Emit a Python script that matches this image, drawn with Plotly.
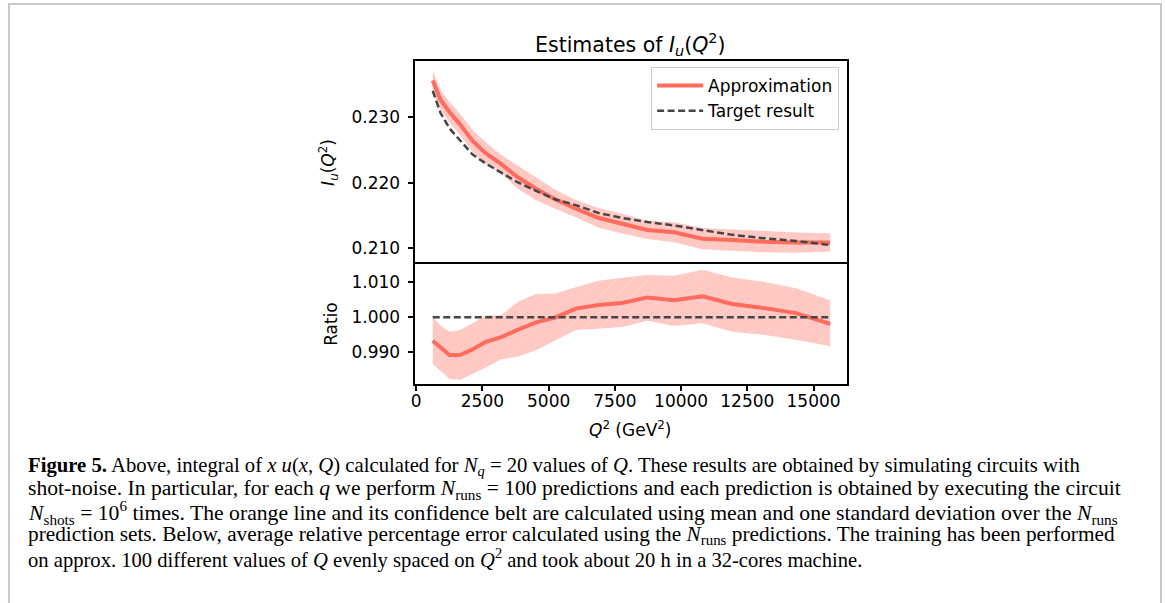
import plotly.graph_objects as go

# ---- data ----
q2 = [625, 916, 1262, 1664, 2121, 2634, 3201, 3824, 4503, 5237,
      6026, 6871, 7772, 8727, 9738, 10805, 11927, 13104, 14337, 15625]
approx = [0.23558, 0.23265, 0.23074, 0.22884, 0.22640, 0.22446, 0.22285, 0.22085, 0.21911, 0.21748,
          0.21603, 0.21463, 0.21373, 0.21278, 0.21242, 0.21145, 0.21123, 0.21096, 0.21085, 0.21087]
approx_lo = [0.23397, 0.23115, 0.22917, 0.22720, 0.22475, 0.22279, 0.22145, 0.21912, 0.21735, 0.21601,
             0.21471, 0.21315, 0.21222, 0.21139, 0.21089, 0.20983, 0.20959, 0.20936, 0.20930, 0.20948]
approx_hi = [0.23719, 0.23415, 0.23231, 0.23048, 0.22805, 0.22613, 0.22425, 0.22258, 0.22087, 0.21895,
             0.21735, 0.21611, 0.21524, 0.21417, 0.21395, 0.21307, 0.21287, 0.21256, 0.21240, 0.21226]
target = [0.23400, 0.23065, 0.22825, 0.22637, 0.22432, 0.22289, 0.22158, 0.22006, 0.21878, 0.21746,
          0.21657, 0.21538, 0.21461, 0.21399, 0.21346, 0.21272, 0.21203, 0.21153, 0.21110, 0.21047]
ratio = [0.9933, 0.9914, 0.9892, 0.9892, 0.9908, 0.9930, 0.9943, 0.9964, 0.9985, 0.9999,
         1.0025, 1.0035, 1.0041, 1.0057, 1.0049, 1.0060, 1.0038, 1.0027, 1.0012, 0.9981]
ratio_lo = [0.9866, 0.9847, 0.9823, 0.9821, 0.9837, 0.9856, 0.9880, 0.9887, 0.9905, 0.9933,
            0.9964, 0.9967, 0.9972, 0.9990, 0.9975, 0.9983, 0.9959, 0.9950, 0.9936, 0.9917]
ratio_hi = [1.0003, 0.9976, 0.9959, 0.9964, 0.9983, 1.0005, 1.0006, 1.0044, 1.0066, 1.0068,
            1.0086, 1.0105, 1.0113, 1.0121, 1.0119, 1.0136, 1.0114, 1.0102, 1.0083, 1.0049]
ones = [1.0] * len(q2)

x_ticks = [0, 2500, 5000, 7500, 10000, 12500, 15000]
top_ticks = [0.210, 0.220, 0.230]
bot_ticks = [0.990, 1.000, 1.010]

W, H = 1165, 603
def px(x):
    return x / W
def py(y):
    return 1 - y / H

LINE_C = "#ff6b5c"
BAND_C = "#ffc8c3"
DASH_C = "#454545"
FONT = "DejaVu Sans"

pattern = dict(shape="/", bgcolor=BAND_C, fgcolor="white", fgopacity=0.45, size=11, solidity=0.06)

fig = go.Figure()
# top panel
fig.add_trace(go.Scatter(x=q2, y=approx_hi, xaxis="x2", yaxis="y2", mode="lines",
                         line=dict(width=0, color=BAND_C), showlegend=False, hoverinfo="skip"))
fig.add_trace(go.Scatter(x=q2, y=approx_lo, xaxis="x2", yaxis="y2", mode="lines", fill="tonexty",
                         fillcolor=BAND_C, fillpattern=pattern,
                         line=dict(width=0, color=BAND_C), showlegend=False, hoverinfo="skip"))
fig.add_trace(go.Scatter(x=q2, y=approx, xaxis="x2", yaxis="y2", mode="lines", name="Approximation",
                         line=dict(width=4, color=LINE_C)))
fig.add_trace(go.Scatter(x=q2, y=target, xaxis="x2", yaxis="y2", mode="lines", name="Target result",
                         line=dict(width=2.5, color=DASH_C, dash="7px,3.5px")))
# bottom panel
fig.add_trace(go.Scatter(x=q2, y=ratio_hi, xaxis="x", yaxis="y", mode="lines",
                         line=dict(width=0, color=BAND_C), showlegend=False, hoverinfo="skip"))
fig.add_trace(go.Scatter(x=q2, y=ratio_lo, xaxis="x", yaxis="y", mode="lines", fill="tonexty",
                         fillcolor=BAND_C, fillpattern=pattern,
                         line=dict(width=0, color=BAND_C), showlegend=False, hoverinfo="skip"))
fig.add_trace(go.Scatter(x=q2, y=ratio, xaxis="x", yaxis="y", mode="lines",
                         line=dict(width=4, color=LINE_C), showlegend=False))
fig.add_trace(go.Scatter(x=q2, y=ones, xaxis="x", yaxis="y", mode="lines",
                         line=dict(width=2.5, color=DASH_C, dash="7px,3.5px"), showlegend=False))

xdom = [px(412), px(846)]
axcommon = dict(showline=True, linecolor="black", linewidth=2, mirror=True, showgrid=False,
                zeroline=False, ticks="outside", ticklen=5, tickwidth=1.6, tickcolor="black",
                tickfont=dict(family=FONT, size=17, color="black"))

fig.update_layout(
    width=W, height=H,
    margin=dict(l=0, r=0, t=0, b=0, pad=0),
    paper_bgcolor="white", plot_bgcolor="white",
    xaxis=dict(domain=xdom, anchor="y", range=[-60, 16265], tickvals=x_ticks,
               ticktext=[str(v) for v in x_ticks], ticklabelstandoff=-4, **axcommon),
    xaxis2=dict(domain=xdom, anchor="y2", matches="x", range=[-60, 16265],
                showticklabels=False, showline=True, linecolor="black", linewidth=2,
                mirror=True, showgrid=False, zeroline=False, ticks=""),
    yaxis=dict(domain=[py(384), py(264)], anchor="x", range=[0.9809, 1.01527],
               tickvals=bot_ticks, ticktext=["%.3f" % v for v in bot_ticks],
               ticklabelstandoff=4, **axcommon),
    yaxis2=dict(domain=[py(262), py(61)], anchor="x2", range=[0.20789, 0.23855],
                tickvals=top_ticks, ticktext=["%.3f" % v for v in top_ticks],
                ticklabelstandoff=4, **axcommon),
    legend=dict(x=px(838), y=py(67), xanchor="right", yanchor="top", traceorder="normal",
                itemwidth=46,
                bgcolor="rgba(255,255,255,0.85)", bordercolor="#cccccc", borderwidth=1,
                font=dict(family=FONT, size=17, color="black"), tracegroupgap=2),
    showlegend=True,
)

ann = []
ann.append(dict(x=px(628), y=py(44), xref="paper", yref="paper", showarrow=False,
                text="Estimates of <i>I</i><sub><i>u</i></sub>(<i>Q</i><sup>2</sup>)",
                font=dict(family=FONT, size=20.5, color="black"), xanchor="center", yanchor="middle"))
ann.append(dict(x=px(325), y=py(162), xref="paper", yref="paper", showarrow=False, textangle=-90,
                text="<i>I</i><sub><i>u</i></sub>(<i>Q</i><sup>2</sup>)",
                font=dict(family=FONT, size=17, color="black"), xanchor="center", yanchor="middle"))
ann.append(dict(x=px(328), y=py(324), xref="paper", yref="paper", showarrow=False, textangle=-90,
                text="Ratio", font=dict(family=FONT, size=17, color="black"),
                xanchor="center", yanchor="middle"))
ann.append(dict(x=px(629), y=py(429), xref="paper", yref="paper", showarrow=False,
                text="<i>Q</i><sup>2</sup> (GeV<sup>2</sup>)",
                font=dict(family=FONT, size=17, color="black"), xanchor="center", yanchor="middle"))

caption = [
    "<b>Figure 5.</b> Above, integral of <i>x u</i>(<i>x</i>, <i>Q</i>) calculated for <i>N<sub>q</sub></i> = 20 values of <i>Q</i>. These results are obtained by simulating circuits with",
    "shot-noise. In particular, for each <i>q</i> we perform <i>N</i><sub>runs</sub> = 100 predictions and each prediction is obtained by executing the circuit",
    "<i>N</i><sub>shots</sub> = 10<sup>6</sup> times. The orange line and its confidence belt are calculated using mean and one standard deviation over the <i>N</i><sub>runs</sub>",
    "prediction sets. Below, average relative percentage error calculated using the <i>N</i><sub>runs</sub> predictions. The training has been performed",
    "on approx. 100 different values of <i>Q</i> evenly spaced on <i>Q</i><sup>2</sup> and took about 20 h in a 32-cores machine.",
]
cap_y = [466, 489, 512, 535, 558]
cap_size = [20.7, 21.6, 21.7, 21.3, 20.6]
for t, yy, fs in zip(caption, cap_y, cap_size):
    ann.append(dict(x=px(22), y=py(yy), xref="paper", yref="paper", showarrow=False, text=t,
                    font=dict(family="Liberation Serif", size=fs, color="black"),
                    xanchor="left", yanchor="middle", align="left"))
fig.update_layout(annotations=ann)

fig.add_shape(type="rect", xref="paper", yref="paper", x0=px(5), x1=px(1161), y0=py(640), y1=py(4),
              line=dict(color="#c8c8c8", width=2), fillcolor="rgba(0,0,0,0)", layer="below")

fig.write_html("out.html", config={"displayModeBar": False},
               post_script="document.body.style.margin='0';document.body.style.overflow='hidden';")
